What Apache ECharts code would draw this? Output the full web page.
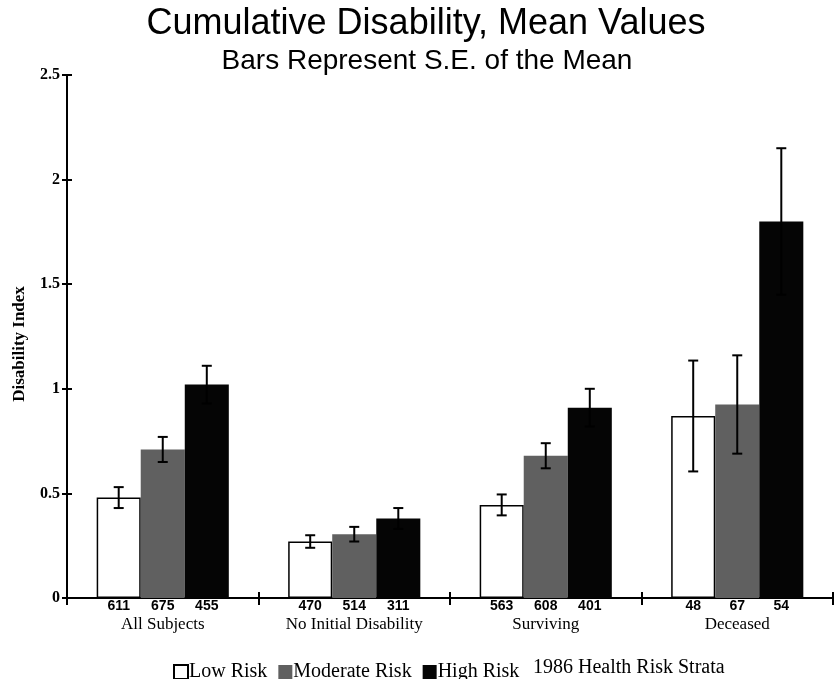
<!DOCTYPE html>
<html>
<head>
<meta charset="utf-8">
<script src="https://cdn.jsdelivr.net/npm/echarts@6/dist/echarts.min.js"></script>
<style>
html,body{margin:0;padding:0;background:#fff;}
#chart{width:834px;height:679px;}
</style>
</head>
<body>
<div id="chart"></div>
<script>
const categories = ['All Subjects', 'No Initial Disability', 'Surviving', 'Deceased'];
const seriesNames = ['Low Risk', 'Moderate Risk', 'High Risk'];
const lowMean = [0.48, 0.27, 0.445, 0.87];
const modMean = [0.71, 0.305, 0.68, 0.925];
const highMean = [1.02, 0.38, 0.91, 1.80];
const lowSE = [0.05, 0.03, 0.05, 0.265];
const modSE = [0.06, 0.035, 0.06, 0.235];
const highSE = [0.09, 0.05, 0.09, 0.35];
const lowN = [611, 470, 563, 48];
const modN = [675, 514, 608, 67];
const highN = [455, 311, 401, 54];
const yTicks = [0, 0.5, 1, 1.5, 2, 2.5];

const serif = '"Liberation Serif", "DejaVu Serif", serif';
const sans = '"Liberation Sans", Arial, sans-serif';
const catGap = 0.31;

const means = [lowMean, modMean, highMean];
const ses = [lowSE, modSE, highSE];
const ns = [lowN, modN, highN];
const colors = ['#ffffff', '#606060', '#050505'];

const errData = [];
for (let k = 0; k < 3; k++) {
  for (let i = 0; i < categories.length; i++) {
    errData.push([i, means[k][i], ses[k][i], k]);
  }
}

const barSeries = seriesNames.map((name, k) => ({
  name: name,
  type: 'bar',
  xAxisIndex: 0,
  yAxisIndex: 0,
  data: means[k],
  barGap: '0%',
  barCategoryGap: (catGap * 100) + '%',
  itemStyle: {
    color: colors[k],
    borderColor: '#000',
    borderWidth: k === 0 ? 1.5 : 0
  },
  label: {
    show: true,
    position: 'bottom',
    distance: 1,
    formatter: p => String(ns[k][p.dataIndex]),
    fontFamily: sans,
    fontWeight: 'bold',
    fontSize: 14,
    color: '#000'
  },
  z: 2
}));

const errSeries = {
  type: 'custom',
  name: 'err',
  xAxisIndex: 0,
  yAxisIndex: 0,
  data: errData,
  z: 5,
  silent: true,
  renderItem: function (params, api) {
    const ci = api.value(0), m = api.value(1), se = api.value(2), k = api.value(3);
    const band = api.size([1, 0])[0];
    const bw = band * (1 - catGap) / 3;
    const c = api.coord([ci, m]);
    const cx = c[0] + (k - 1) * bw;
    const top = api.coord([ci, m + se])[1];
    const bot = api.coord([ci, m - se])[1];
    const hw = 5;
    const st = { stroke: '#000', lineWidth: 2 };
    return {
      type: 'group',
      children: [
        { type: 'line', shape: { x1: cx, y1: top, x2: cx, y2: bot }, style: st },
        { type: 'line', shape: { x1: cx - hw, y1: top, x2: cx + hw, y2: top }, style: st },
        { type: 'line', shape: { x1: cx - hw, y1: bot, x2: cx + hw, y2: bot }, style: st }
      ]
    };
  }
};

const tickStyle = { color: '#000', width: 2 };

const chart = echarts.init(document.getElementById('chart'));
chart.setOption({
  animation: false,
  backgroundColor: '#fff',
  legend: {
    data: seriesNames,
    left: 168, top: 657,
    itemWidth: 14, itemHeight: 14, itemGap: 11,
    icon: 'rect',
    textStyle: { fontFamily: serif, fontSize: 20, color: '#000', padding: [0, 0, 0, -4] }
  },
  graphic: [
    {
      type: 'text', x: 426, y: 24,
      style: { text: 'Cumulative Disability, Mean Values', font: '36px "Liberation Sans", Arial, sans-serif',
               fill: '#000', textAlign: 'center', textVerticalAlign: 'middle' }
    },
    {
      type: 'text', x: 427, y: 61,
      style: { text: 'Bars Represent S.E. of the Mean', font: '28px "Liberation Sans", Arial, sans-serif',
               fill: '#000', textAlign: 'center', textVerticalAlign: 'middle' }
    },
    {
      type: 'text', x: 20, y: 344, rotation: Math.PI / 2,
      style: { text: 'Disability Index', font: 'bold 17px "Liberation Serif", serif',
               fill: '#000', textAlign: 'center', textVerticalAlign: 'middle' }
    },
    {
      type: 'text', x: 533, y: 668,
      style: { text: '1986 Health Risk Strata', font: '20px "Liberation Serif", serif',
               fill: '#000', textAlign: 'left', textVerticalAlign: 'middle' }
    }
  ],
  grid: { left: 67, right: 1, top: 75, bottom: 81 },
  xAxis: [
    {
      type: 'category',
      data: categories,
      axisLine: { lineStyle: { color: '#000', width: 2 } },
      axisTick: { show: true, length: 7, lineStyle: tickStyle },
      axisLabel: { margin: 18, fontFamily: serif, fontSize: 17, color: '#000' }
    },
    {
      type: 'category',
      data: categories,
      position: 'bottom',
      offset: 0,
      axisLine: { show: false },
      axisTick: { show: true, inside: true, length: 6, lineStyle: tickStyle },
      axisLabel: { show: false }
    }
  ],
  yAxis: [
    {
      type: 'value',
      min: yTicks[0], max: yTicks[yTicks.length - 1], interval: 0.5,
      axisLine: { show: true, lineStyle: { color: '#000', width: 2 } },
      axisTick: { show: true, length: 5, lineStyle: tickStyle },
      splitLine: { show: false },
      axisLabel: {
        fontFamily: serif, fontWeight: 'bold', fontSize: 16, color: '#000', margin: 7,
        formatter: v => String(v)
      }
    },
    {
      type: 'value',
      position: 'left',
      offset: 0,
      min: yTicks[0], max: yTicks[yTicks.length - 1], interval: 0.5,
      axisLine: { show: false },
      axisTick: { show: true, inside: true, length: 5, lineStyle: tickStyle },
      splitLine: { show: false },
      axisLabel: { show: false }
    }
  ],
  series: barSeries.concat([errSeries])
});
</script>
</body>
</html>
